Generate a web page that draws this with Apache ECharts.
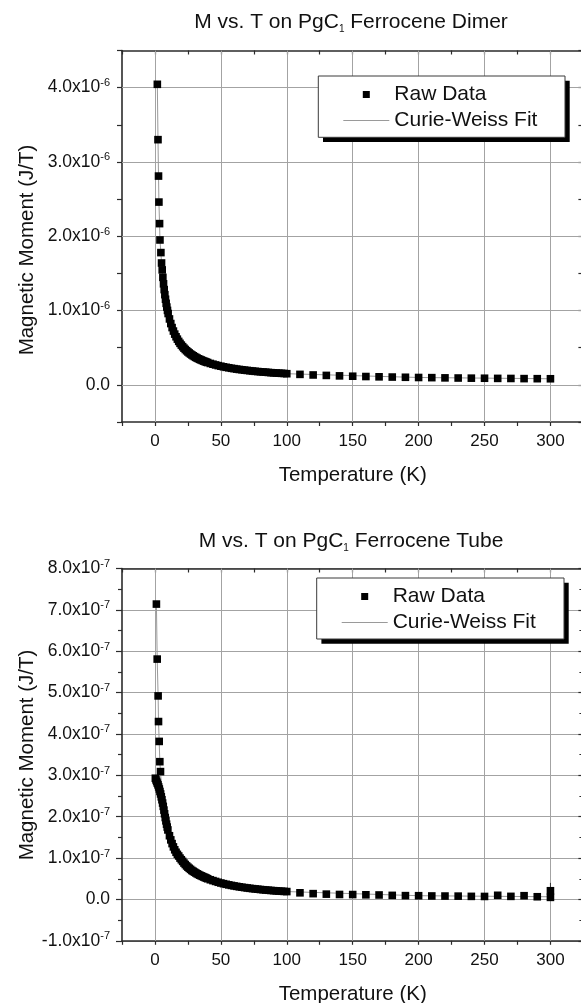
<!DOCTYPE html>
<html><head><meta charset="utf-8">
<script src="https://cdn.jsdelivr.net/npm/echarts@6/dist/echarts.min.js"></script>
<style>html,body{margin:0;padding:0;background:#fff}#c{width:581px;height:1003px}</style>
</head><body><div id="c"></div>
<script>
const FONT = '"Liberation Sans", Arial, Helvetica, sans-serif';

// Temperature axis
const xGridValues = [0, 50, 100, 150, 200, 250, 300];
const xLabelValues = [0, 50, 100, 150, 200, 250, 300];

// ---- Ferrocene Dimer (moment in units of 1e-6 J/T) ----
const dimerT = [1.8,2.3,2.7,3.0,3.5,3.8,4.5,5.0,
  5.5,6,6.5,7,7.5,8,8.5,9,9.5,10,
  11,12,13,14,15,16,17,18,19,20,21,22,23,24,25,26,27,28,29,30,31,32,33,34,35,36,37,38,39,40,
  42,44,46,48,50,52,54,56,58,60,62,64,66,68,70,72,74,76,78,80,82,84,86,88,90,92,94,96,98,100,
  110,120,130,140,150,160,170,180,190,200,210,220,230,240,250,260,270,280,290,300];
const dimerM = [4.045,3.30,2.81,2.46,2.17,1.95,1.78,1.64,
  1.547,1.447,1.360,1.282,1.214,1.152,1.097,1.047,1.002,0.960,
  0.887,0.825,0.771,0.724,0.683,0.647,0.615,0.585,0.559,0.535,
  0.514,0.494,0.476,0.459,0.443,0.429,0.415,0.403,0.391,0.380,
  0.370,0.360,0.351,0.343,0.335,0.327,0.320,0.313,0.306,0.300,
  0.288,0.278,0.268,0.259,0.251,0.243,0.236,0.230,0.223,0.218,
  0.212,0.207,0.203,0.198,0.194,0.190,0.186,0.182,0.179,0.176,
  0.173,0.170,0.167,0.164,0.162,0.159,0.157,0.155,0.153,0.150,
  0.141,0.133,0.127,0.121,0.116,0.112,0.108,0.105,0.102,0.099,
  0.097,0.094,0.092,0.090,0.089,0.087,0.086,0.084,0.083,0.082];
const dimerFitT = [1.8,2.3,2.7,3.0,3.5,3.8,4.5,5.0,5.5,7,10,15,20,30,50,100,200,300];
const dimerFitM = [4.045,3.30,2.81,2.46,2.17,1.95,1.78,1.64,1.547,1.282,0.960,0.683,0.535,0.380,0.251,0.150,0.099,0.082];
const dimerYGrid = [0, 1, 2, 3, 4];

// ---- Ferrocene Tube (moment in units of 1e-7 J/T) ----
const tubeT = [1.1,1.7,2.4,2.7,3.2,3.7,4.2,
  0.3,0.8,1.3,1.8,2.3,2.8,3.3,3.8,4.3,4.8,5.3,5.8,6.3,6.8,7.3,7.8,8.3,8.8,9.3,9.8,
  11,12,13,14,15,16,17,
  18,19,20,21,22,23,24,25,26,27,28,29,30,31,32,33,34,35,36,37,38,39,40,
  42,44,46,48,50,52,54,56,58,60,62,64,66,68,70,72,74,76,78,80,82,84,86,88,90,92,94,96,98,100,
  110,120,130,140,150,160,170,180,190,200,210,220,230,240,250,260,270,280,290,300,
  300];
const tubeM = [7.14,5.81,4.92,4.30,3.82,3.33,3.09,
  2.93,2.89,2.85,2.81,2.77,2.72,2.67,2.61,2.55,2.48,2.41,2.33,2.25,2.16,2.07,1.98,1.90,1.82,1.75,1.68,
  1.54,1.44,1.35,1.27,1.20,1.14,1.09,
  1.05,1.00,0.96,0.92,0.88,0.845,0.81,0.78,0.753,0.727,0.70,0.68,0.66,0.64,0.62,0.603,0.587,0.572,0.557,0.543,0.529,0.515,0.50,
  0.476,0.455,0.435,0.415,0.397,0.381,0.366,0.352,0.339,0.327,0.316,0.305,0.295,0.286,0.277,
  0.269,0.261,0.254,0.247,0.240,0.234,0.228,0.222,0.217,0.212,0.207,0.202,0.198,0.194,0.190,
  0.16,0.14,0.128,0.12,0.118,0.112,0.108,0.098,0.092,0.09,0.084,0.082,0.08,0.074,0.072,0.10,0.074,0.09,0.065,0.05,
  0.21];
const tubeFitT = [1.1,1.7,2.4,2.7,3.2,3.7,4.2,5,6,8,10,15,20,30,50,100,200,300];
const tubeFitM = [7.14,5.81,4.92,4.30,3.82,3.33,3.09,2.70,2.35,1.96,1.66,1.20,0.96,0.66,0.397,0.190,0.090,0.065];
const tubeErrT = [300, 300];
const tubeErrM = [0.21, 0.40];

const zip = (a, b) => a.map((v, i) => [v, b[i]]);

const AX = '#2b2b2b';
const GRIDC = '#a3a3a3';
const TXT = '#111';

function sciLabel(exp) {
  return function (v) {
    if (Math.abs(v - Math.round(v)) > 1e-6) return '';
    const r = Math.round(v);
    if (r === 0) return '{m|0.0}';
    return '{m|' + r.toFixed(1) + 'x10}{s|-' + exp + '}';
  };
}
const yRich = {
  m: { fontSize: 17.5, fontFamily: FONT, color: TXT, lineHeight: 20 },
  s: { fontSize: 11, fontFamily: FONT, color: TXT, lineHeight: 11, verticalAlign: 'top' }
};
function xLabel(v) { return xLabelValues.indexOf(v) >= 0 ? String(v) : ''; }

function xAxes(gridIndex) {
  return [{
    gridIndex, type: 'value', position: 'bottom', min: -25, max: 325, interval: 25,
    name: 'Temperature (K)', nameLocation: 'middle', nameGap: 43,
    nameTextStyle: { fontSize: 20.5, fontFamily: FONT, color: TXT },
    axisLine: { show: true, onZero: false, lineStyle: { color: AX, width: 1.6 } },
    axisTick: { show: true, inside: false, length: 4, lineStyle: { color: AX, width: 1.2 } },
    axisLabel: { formatter: xLabel, margin: 11, fontSize: 17, fontFamily: FONT, color: TXT },
    splitLine: { show: false }
  }, {
    gridIndex, type: 'value', position: 'top', min: -25, max: 325, interval: 25,
    axisLine: { show: true, onZero: false, lineStyle: { color: AX, width: 1.6 } },
    axisTick: { show: true, inside: true, length: 4, lineStyle: { color: AX, width: 1.2 } },
    axisLabel: { show: false }, splitLine: { show: false }
  }];
}

function gridMarkLine(xs, ys) {
  return {
    silent: true, symbol: ['none', 'none'], z: 1, animation: false,
    label: { show: false }, emphasis: { disabled: true },
    lineStyle: { color: GRIDC, width: 1, type: 'solid' },
    data: xs.map(v => ({ xAxis: v })).concat(ys.map(v => ({ yAxis: v })))
  };
}

function titleText(name) {
  return '{a|M vs. T on PgC}{s|1}{a| ' + name + '}';
}
const titleRich = {
  a: { fontSize: 21, fontFamily: FONT, fill: TXT, color: TXT, lineHeight: 24 },
  s: { fontSize: 10, fontFamily: FONT, fill: TXT, color: TXT, lineHeight: 2, verticalAlign: 'bottom' }
};

function legend(left, top) {
  return {
    orient: 'vertical', left, top, itemWidth: 46, itemHeight: 8, itemGap: 5, z: 10,
    padding: [8, 27, 7, 25], backgroundColor: 'transparent', borderWidth: 0,
    selectedMode: false,
    textStyle: { fontFamily: FONT, fontSize: 21, color: TXT, lineHeight: 21 },
    data: [
      { name: 'Raw Data', icon: 'path://M0,0h0.01v0.01h-0.01z M46,8h-0.01v-0.01h0.01z M19.5,0.5h7v7h-7z' },
      { name: 'Curie-Weiss Fit', icon: 'path://M0,0h46v1h-46z' }
    ]
  };
}

function legendBox(x, y, w, h, off) {
  return [
    { type: 'rect', z: 6, shape: { x: x + off, y: y + off, width: w, height: h }, style: { fill: '#000' }, silent: true },
    { type: 'rect', z: 7, shape: { x: x, y: y, width: w, height: h }, style: { fill: '#fff', stroke: '#3a3a3a', lineWidth: 1 }, silent: true }
  ];
}

const chart = echarts.init(document.getElementById('c'), null, { renderer: 'canvas' });
chart.setOption({
  animation: false,
  backgroundColor: '#fff',
  grid: [
    { left: 122, top: 50.5, width: 461.4, height: 371.5, containLabel: false, outerBoundsMode: 'none' },
    { left: 122, top: 568.5, width: 461.4, height: 372.3, containLabel: false, outerBoundsMode: 'none' }
  ],
  xAxis: xAxes(0).concat(xAxes(1)),
  yAxis: [
    { gridIndex: 0, type: 'value', position: 'left', min: -0.5, max: 4.5, interval: 0.5,
      axisLine: { show: true, onZero: false, lineStyle: { color: AX, width: 1.6 } },
      axisTick: { show: true, inside: false, length: 5, lineStyle: { color: AX, width: 1.2 } },
      axisLabel: { formatter: sciLabel(6), rich: yRich, margin: 12 },
      splitLine: { show: false } },
    { gridIndex: 0, type: 'value', position: 'right', min: -0.5, max: 4.5, interval: 0.5,
      axisLine: { show: true, onZero: false, lineStyle: { color: AX, width: 1.6 } },
      axisTick: { show: true, inside: true, length: 5, lineStyle: { color: AX, width: 1.2 } },
      axisLabel: { show: false }, splitLine: { show: false } },
    { gridIndex: 1, type: 'value', position: 'left', min: -1, max: 8, interval: 1,
      axisLine: { show: true, onZero: false, lineStyle: { color: AX, width: 1.6 } },
      axisTick: { show: true, inside: false, length: 6, lineStyle: { color: AX, width: 1.2 } },
      minorTick: { show: true, splitNumber: 2, length: 4, lineStyle: { color: AX, width: 1.2 } },
      axisLabel: { formatter: sciLabel(7), rich: yRich, margin: 12 },
      splitLine: { show: true, lineStyle: { color: GRIDC, width: 1 } } },
    { gridIndex: 1, type: 'value', position: 'right', min: -1, max: 8, interval: 1,
      axisLine: { show: true, onZero: false, lineStyle: { color: AX, width: 1.6 } },
      axisTick: { show: true, inside: true, length: 5, lineStyle: { color: AX, width: 1.2 } },
      minorTick: { show: true, splitNumber: 2, length: 4, lineStyle: { color: AX, width: 1.2 } },
      axisLabel: { show: false }, splitLine: { show: false } }
  ],
  legend: [legend(318.3, 76), legend(316.7, 578)],
  graphic: [
    { type: 'text', x: 351, y: 22, style: { text: titleText('Ferrocene Dimer'), rich: titleRich, textAlign: 'center', textVerticalAlign: 'middle', fill: TXT } },
    { type: 'text', x: 351, y: 541, style: { text: titleText('Ferrocene Tube'), rich: titleRich, textAlign: 'center', textVerticalAlign: 'middle', fill: TXT } },
    { type: 'text', x: 27, y: 250, rotation: Math.PI / 2, style: { text: 'Magnetic Moment (J/T)', font: '20.5px ' + FONT, fill: TXT, textAlign: 'center', textVerticalAlign: 'middle' } },
    { type: 'text', x: 27, y: 755, rotation: Math.PI / 2, style: { text: 'Magnetic Moment (J/T)', font: '20.5px ' + FONT, fill: TXT, textAlign: 'center', textVerticalAlign: 'middle' } }
  ].concat(legendBox(318.3, 76, 246.7, 61.3, 4.7)).concat(legendBox(316.7, 578, 247.3, 61, 4.7)),
  series: [
    { type: 'line', name: 'Curie-Weiss Fit', xAxisIndex: 0, yAxisIndex: 0, data: zip(dimerFitT, dimerFitM),
      symbol: 'none', showSymbol: false, lineStyle: { color: '#9a9a9a', width: 1 }, itemStyle: { color: '#9a9a9a' },
      z: 3, silent: true, markLine: gridMarkLine(xGridValues, dimerYGrid) },
    { type: 'scatter', name: 'Raw Data', xAxisIndex: 0, yAxisIndex: 0, data: zip(dimerT, dimerM),
      symbol: 'rect', symbolSize: 7.6, itemStyle: { color: '#000', opacity: 1 }, z: 4, silent: true },
    { type: 'line', name: 'Curie-Weiss Fit', xAxisIndex: 2, yAxisIndex: 2, data: zip(tubeFitT, tubeFitM),
      symbol: 'none', showSymbol: false, lineStyle: { color: '#9a9a9a', width: 1 }, itemStyle: { color: '#9a9a9a' },
      z: 3, silent: true, markLine: gridMarkLine(xGridValues, []) },
    { type: 'scatter', name: 'Raw Data', xAxisIndex: 2, yAxisIndex: 2, data: zip(tubeT, tubeM),
      symbol: 'rect', symbolSize: 7.6, itemStyle: { color: '#000', opacity: 1 }, z: 4, silent: true },
    { type: 'line', name: 'error', xAxisIndex: 2, yAxisIndex: 2, data: zip(tubeErrT, tubeErrM),
      symbol: 'none', showSymbol: false, lineStyle: { color: '#333', width: 1 }, z: 3, silent: true }
  ]
});
</script></body></html>
